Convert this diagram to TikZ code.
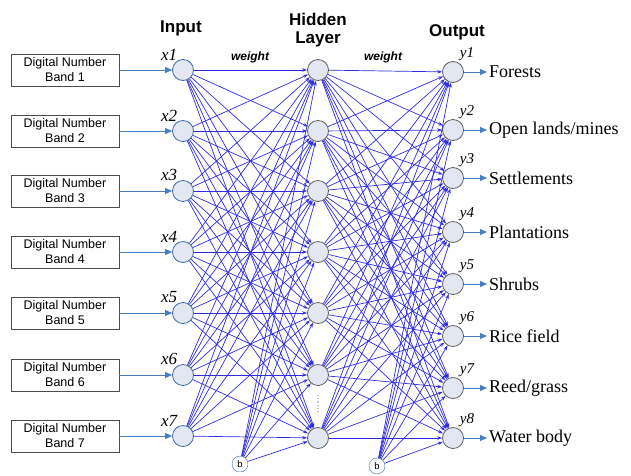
\documentclass[tikz,border=0pt]{standalone}
\usepackage{fontspec}
\setmainfont{Liberation Serif}
\setsansfont{Liberation Sans}
\usetikzlibrary{
    arrows.meta
}

\definecolor{netblue}{RGB}{45,45,225}
\definecolor{feedblue}{RGB}{70,125,195}
\definecolor{unitfill}{RGB}{226,231,242}
\definecolor{unitedge}{RGB}{95,95,95}

\tikzset{
    unit/.style={circle,draw=unitedge,fill=unitfill,minimum size=21pt,inner sep=0pt,line width=0.8pt},
    inunit/.style={unit,draw=feedblue!85!black},
    biasunit/.style={circle,draw=feedblue!85!black,fill=white,minimum size=16pt,inner sep=0pt,
        font=\sffamily\fontsize{9.5}{10}\selectfont},
    bandbox/.style={draw=black!70,line width=0.8pt,minimum width=108pt,minimum height=32pt,
        align=center,inner sep=0pt,font=\sffamily\fontsize{12.5}{15}\selectfont},
    classtext/.style={anchor=west,inner sep=2pt,font=\fontsize{18}{20}\selectfont},
    layertitle/.style={align=center,font=\sffamily\bfseries\fontsize{17}{18.5}\selectfont},
    weighttext/.style={font=\sffamily\bfseries\itshape\fontsize{12}{13}\selectfont},
    xname/.style={font=\itshape\fontsize{17}{18}\selectfont,inner sep=0pt},
    yname/.style={font=\itshape\fontsize{15}{16}\selectfont,inner sep=0pt},
    weightline/.style={netblue,line width=0.7pt,-{Stealth[length=5pt,width=3.5pt]}},
    feedline/.style={feedblue,line width=0.9pt,-{Triangle[length=7pt,width=6pt]}}
}

\begin{document}
\begin{tikzpicture}[x=1pt,y=-1pt]

\useasboundingbox (0,0) rectangle (631,475);

% titles
\node[layertitle] (tin) at (181,28) {Input};
\node[layertitle] (thid) at (318,30) {Hidden\\Layer};
\node[layertitle] (tout) at (457,32) {Output};
\node[weighttext] (w1) at (250,57) {weight};
\node[weighttext] (w2) at (383,57) {weight};

% input side
\foreach \i/\y in {1/70,2/131,3/191,4/252,5/313,6/375,7/436} {
    \node[bandbox] (box\i) at (65,\y) {Digital Number\\Band \i};
    \node[inunit] (in\i) at (183,\y) {};
    \node[xname,anchor=south east] (xl\i) at ([xshift=2pt,yshift=2pt]in\i.north west) {x\i};
    \draw[feedline] (box\i) -- (in\i);
}

% hidden layer
\foreach \i/\y in {1/70,2/131,3/191,4/252,5/313,6/375,7/438}
    \node[unit] (hid\i) at (318,\y) {};
\draw[gray!50,dotted,line width=1.2pt] (hid6.south) ++(0,9) coordinate (dtop) -- ++(0,18) coordinate (dbot);

% output layer
\foreach \j/\y/\cls in {1/72/Forests,2/130/Open lands\slash mines,3/178/Settlements,4/232/Plantations,
    5/284/Shrubs,6/336/Rice field,7/388/Reed\slash grass,8/438/Water body} {
    \node[unit] (out\j) at (453,\y) {};
    \node[yname,anchor=south west] (yl\j) at ([xshift=-1pt,yshift=3pt]out\j.north east) {y\j};
    \node[classtext] (cls\j) at (487,\y) {\cls};
    \draw[feedline] (out\j) -- (cls\j);
}

% bias units
\node[biasunit] (bias1) at (240,464) {b};
\node[biasunit] (bias2) at (377,466) {b};

% weights
\foreach \i in {1,...,7}
    \foreach \k in {1,...,7}
        \draw[weightline] (in\i) -- (hid\k);
\foreach \k in {1,...,7}
    \draw[weightline] (bias1) -- (hid\k);
\foreach \k in {1,...,7}
    \foreach \j in {1,...,8}
        \draw[weightline] (hid\k) -- (out\j);
\foreach \j in {1,...,8}
    \draw[weightline] (bias2) -- (out\j);

\end{tikzpicture}
\end{document}
